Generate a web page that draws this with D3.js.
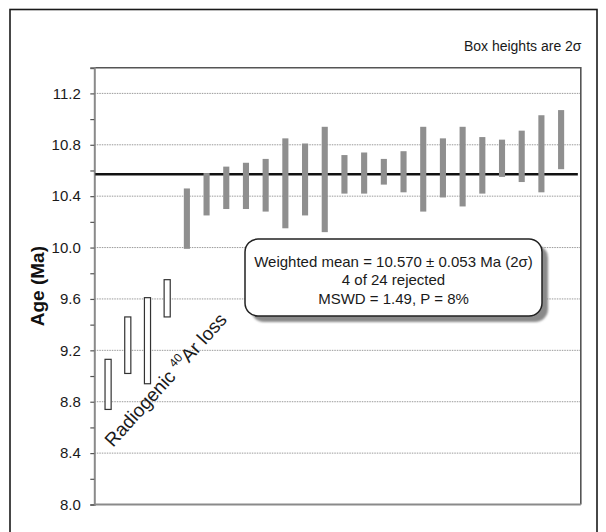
<!DOCTYPE html>
<html>
<head>
<meta charset="utf-8">
<script src="https://cdn.jsdelivr.net/npm/d3@7"></script>
<style>
  html, body { margin: 0; padding: 0; background: #fff; }
  svg { display: block; font-family: "Liberation Sans", Arial, sans-serif; }
</style>
</head>
<body>
<svg id="chart" width="606" height="532"></svg>
<script>
// Individual 40Ar/39Ar ages (Ma) and their 2-sigma half heights
const ages   = [8.935, 9.24, 9.275, 9.605, 10.225, 10.415, 10.465, 10.48, 10.485, 10.50, 10.53, 10.53,
                10.57, 10.58, 10.59, 10.59, 10.61, 10.62, 10.63, 10.64, 10.695, 10.71, 10.73, 10.84];
const err2s  = [0.195, 0.22, 0.335, 0.145, 0.235, 0.165, 0.165, 0.18, 0.205, 0.35, 0.28, 0.41,
                0.15, 0.16, 0.10, 0.16, 0.33, 0.23, 0.31, 0.22, 0.145, 0.20, 0.30, 0.23];
const rejected = [true, true, true, true, false, false, false, false, false, false, false, false,
                  false, false, false, false, false, false, false, false, false, false, false, false];

const yTicks = [8.0, 8.4, 8.8, 9.2, 9.6, 10.0, 10.4, 10.8, 11.2];
const yMinorTicks = [8.0, 8.2, 8.4, 8.6, 8.8, 9.0, 9.2, 9.4, 9.6, 9.8, 10.0, 10.2, 10.4, 10.6, 10.8, 11.0, 11.2, 11.4];

const weightedMean = 10.570;
const meanText = ["Weighted mean = 10.570 \u00B1 0.053 Ma (2\u03C3)", "4 of 24 rejected", "MSWD = 1.49, P = 8%"];

const svg = d3.select("#chart");

// outer frame
svg.append("rect")
  .attr("x", 10).attr("y", 9.5).attr("width", 587).attr("height", 540)
  .attr("fill", "none").attr("stroke", "#1a1a1a").attr("stroke-width", 1.6);

const plot = { left: 94.3, right: 580.8, top: 67.7, bottom: 504.5 };

const x = d3.scaleLinear().domain([0.3, 25]).range([plot.left, plot.right]);
const y = d3.scaleLinear().domain([8.0, 11.4]).range([plot.bottom, plot.top]);

// dotted gridlines
svg.append("g").selectAll("line")
  .data(yTicks.filter(t => t > 8.0))
  .join("line")
  .attr("x1", plot.left).attr("x2", plot.right)
  .attr("y1", d => y(d)).attr("y2", d => y(d))
  .attr("stroke", "#9a9a9a").attr("stroke-width", 1)
  .attr("stroke-dasharray", "1.5,1");

// plot frame: top and right
svg.append("path")
  .attr("d", `M${plot.left},${plot.top}H${plot.right}V${plot.bottom}`)
  .attr("fill", "none").attr("stroke", "#555").attr("stroke-width", 1.6);

// bottom axis line
svg.append("line")
  .attr("x1", plot.left).attr("x2", plot.right)
  .attr("y1", plot.bottom).attr("y2", plot.bottom)
  .attr("stroke", "#8a8a8a").attr("stroke-width", 2);

// left axis with minor ticks, labels on major ticks
const yAxis = d3.axisLeft(y)
  .tickValues(yMinorTicks)
  .tickSize(4)
  .tickFormat(d => yTicks.some(t => Math.abs(t - d) < 1e-9) ? d3.format(".1f")(d) : "");
const gy = svg.append("g").attr("transform", `translate(${plot.left},0)`).call(yAxis);
gy.select(".domain").attr("stroke", "#8a8a8a").attr("stroke-width", 2);
gy.selectAll(".tick line").attr("stroke", "#555").attr("stroke-width", 1.2);
gy.selectAll(".tick text")
  .attr("x", -13.5)
  .attr("font-size", 15)
  .attr("font-family", "Liberation Sans, Arial, sans-serif")
  .attr("fill", "#1a1a1a");

// axis title
svg.append("text")
  .attr("transform", `translate(37,${(plot.top + plot.bottom) / 2}) rotate(-90)`)
  .attr("text-anchor", "middle")
  .attr("dy", "0.35em")
  .attr("font-size", 19).attr("font-weight", "bold")
  .attr("fill", "#111")
  .text("Age (Ma)");

// weighted mean line
svg.append("line")
  .attr("x1", x(0.3) + 1).attr("x2", x(24.85))
  .attr("y1", y(weightedMean)).attr("y2", y(weightedMean))
  .attr("stroke", "#111").attr("stroke-width", 2.5);

// age boxes
const halfW = 0.155;
const boxes = ages.map((a, i) => ({ i: i + 1, lo: a - err2s[i], hi: a + err2s[i], rej: rejected[i] }));
svg.append("g").selectAll("rect")
  .data(boxes)
  .join("rect")
  .attr("x", d => x(d.i - halfW))
  .attr("width", d => x(d.i + halfW) - x(d.i - halfW))
  .attr("y", d => y(d.hi))
  .attr("height", d => y(d.lo) - y(d.hi))
  .attr("fill", d => d.rej ? "#fff" : "#8f8f8f")
  .attr("stroke", d => d.rej ? "#333" : "none")
  .attr("stroke-width", 1.2);

// annotation of the rejected young ages
const ann = svg.append("text")
  .attr("transform", "translate(113,448) rotate(-48)")
  .attr("font-size", 19)
  .attr("fill", "#1a1a1a");
ann.append("tspan").text("Radiogenic ");
ann.append("tspan").attr("font-size", 12).attr("dy", -8).text("40");
ann.append("tspan").attr("dy", 8).text("Ar loss");

// result box with drop shadow
const defs = svg.append("defs");
defs.append("filter").attr("id", "soft")
  .append("feGaussianBlur").attr("stdDeviation", 0.8);

const box = { x: 245, y: 239, w: 297, h: 77 };
svg.append("rect")
  .attr("x", box.x + 6).attr("y", box.y + 6)
  .attr("width", box.w).attr("height", box.h)
  .attr("rx", 13).attr("ry", 13)
  .attr("fill", "#8a8a8a")
  .attr("filter", "url(#soft)");
svg.append("rect")
  .attr("x", box.x).attr("y", box.y)
  .attr("width", box.w).attr("height", box.h)
  .attr("rx", 13).attr("ry", 13)
  .attr("fill", "#fff").attr("stroke", "#222").attr("stroke-width", 1.5);

svg.append("g").selectAll("text")
  .data(meanText)
  .join("text")
  .attr("x", box.x + box.w / 2)
  .attr("y", (d, i) => 266.5 + i * 18.8)
  .attr("text-anchor", "middle")
  .attr("font-size", 15)
  .attr("fill", "#1a1a1a")
  .text(d => d);

// box height note
svg.append("text")
  .attr("x", 581.5).attr("y", 51)
  .attr("text-anchor", "end")
  .attr("font-size", 14)
  .attr("fill", "#1a1a1a")
  .text("Box heights are 2\u03C3");
</script>
</body>
</html>
